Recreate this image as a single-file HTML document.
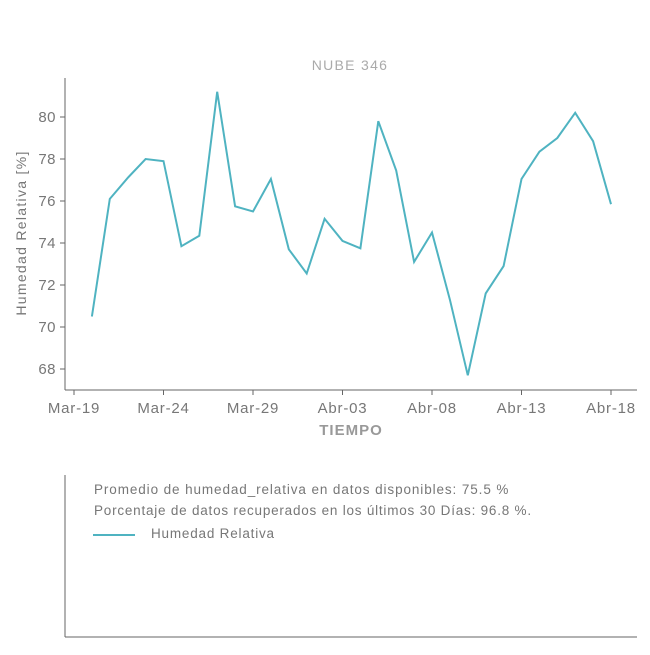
<!DOCTYPE html>
<html><head><meta charset="utf-8"><style>
body{margin:0;background:#fff;font-family:"Liberation Sans",sans-serif;}
svg text{font-family:"Liberation Sans",sans-serif;}
</style></head><body>
<svg id="chart" width="650" height="650" xmlns="http://www.w3.org/2000/svg">
<text x="350" y="70" text-anchor="middle" font-size="14" letter-spacing="1.3" fill="#aaa">NUBE 346</text>
<line x1="65" y1="78" x2="65" y2="390" stroke="#666"/>
<line x1="65" y1="390" x2="637" y2="390" stroke="#666"/>
<text transform="translate(26,233) rotate(-90)" text-anchor="middle" font-size="14" letter-spacing="1.3" fill="#777">Humedad Relativa [%]</text>
<text x="351" y="435" text-anchor="middle" font-size="15" letter-spacing="1" font-weight="bold" fill="#999">TIEMPO</text>
<g id="yt"></g><g id="xt"></g>
<path id="line" fill="none" stroke="#4fb3c1" stroke-width="2"/>
<line x1="65" y1="475" x2="65" y2="637" stroke="#666"/>
<line x1="65" y1="637" x2="637" y2="637" stroke="#666"/>
<text x="94" y="494" font-size="13.5" letter-spacing="0.9" fill="#777">Promedio de humedad_relativa en datos disponibles: 75.5 %</text>
<text x="94" y="515" font-size="13.5" letter-spacing="0.78" fill="#777">Porcentaje de datos recuperados en los últimos 30 Días: 96.8 %.</text>
<line x1="93" y1="535" x2="135" y2="535" stroke="#4fb3c1" stroke-width="2"/>
<text x="151" y="538" font-size="13.5" letter-spacing="0.8" fill="#777">Humedad Relativa</text>
</svg>
<script>
const values=[70.5,76.1,77.1,78.0,77.9,73.85,74.35,81.2,75.75,75.5,77.05,73.7,72.55,75.15,74.1,73.75,79.8,77.45,73.1,74.5,71.3,67.7,71.6,72.9,77.05,78.35,79.0,80.2,78.85,75.85];
const startDay=1; // days after Mar-19
const xTickLabels=["Mar-19","Mar-24","Mar-29","Abr-03","Abr-08","Abr-13","Abr-18"];
const xTickDays=[0,5,10,15,20,25,30];
const yTicks=[68,70,72,74,76,78,80];
const NS="http://www.w3.org/2000/svg";
const x=d=>74+d*(611-74)/30;
const y=v=>117+(80-v)*21;
const yt=document.getElementById('yt'),xt=document.getElementById('xt');
yTicks.forEach(v=>{
 const l=document.createElementNS(NS,'line');
 l.setAttribute('x1',60);l.setAttribute('x2',65);l.setAttribute('y1',y(v));l.setAttribute('y2',y(v));l.setAttribute('stroke','#666');
 
 
 yt.appendChild(l);
 const t=document.createElementNS(NS,'text');
 t.setAttribute('x',56);t.setAttribute('y',y(v)+5);t.setAttribute('text-anchor','end');t.setAttribute('font-size','15');t.setAttribute('letter-spacing','0.5');t.setAttribute('fill','#777');
 t.textContent=v;
 
 
 yt.appendChild(t);
});
xTickDays.forEach((d,i)=>{
 const l=document.createElementNS(NS,'line');
 l.setAttribute('x1',x(d));l.setAttribute('x2',x(d));l.setAttribute('y1',390);l.setAttribute('y2',395);l.setAttribute('stroke','#666');
 
 
 xt.appendChild(l);
 const t=document.createElementNS(NS,'text');
 t.setAttribute('x',x(d));t.setAttribute('y',413);t.setAttribute('text-anchor','middle');t.setAttribute('font-size','15');t.setAttribute('letter-spacing','0.8');t.setAttribute('fill','#777');
 t.textContent=xTickLabels[i];
 
 
 xt.appendChild(t);
});
document.getElementById('line').setAttribute('d',values.map((v,i)=>(i?'L':'M')+x(startDay+i).toFixed(1)+' '+y(v).toFixed(1)).join(' '));
</script>
</body></html>
